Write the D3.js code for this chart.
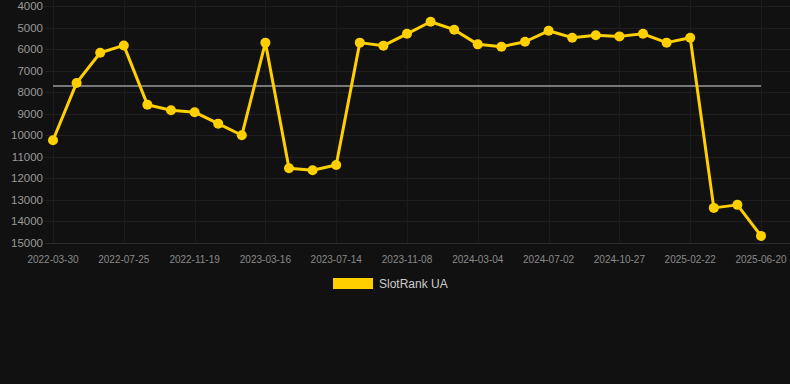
<!DOCTYPE html>
<html>
<head>
<meta charset="utf-8">
<script src="https://cdn.jsdelivr.net/npm/d3@7"></script>
<style>
  html, body { margin: 0; padding: 0; background: #111111; }
  svg { display: block; }
  text { font-family: "Liberation Sans", Arial, sans-serif; }
</style>
</head>
<body>
<svg id="chart" width="790" height="384"></svg>
<script>
// ---- data ----
const seriesName = "SlotRank UA";
const dates = [
  "2022-03-30","2022-05-08","2022-06-16","2022-07-25","2022-09-03","2022-10-12",
  "2022-11-19","2022-12-29","2023-02-06","2023-03-16","2023-04-26","2023-06-04",
  "2023-07-14","2023-08-22","2023-09-30","2023-11-08","2023-12-17","2024-01-25",
  "2024-03-04","2024-04-12","2024-05-22","2024-07-02","2024-08-10","2024-09-18",
  "2024-10-27","2024-12-05","2025-01-14","2025-02-22","2025-04-02","2025-05-11",
  "2025-06-20"
];
const ranks = [
  10230, 7570, 6170, 5830, 8580, 8840,
  8930, 9460, 10000, 5700, 11530, 11620,
  11380, 5700, 5840, 5290, 4730, 5100,
  5780, 5890, 5660, 5150, 5470, 5360,
  5410, 5290, 5700, 5470, 13370, 13230,
  14670
];
const averageRank = 7710;
const xTickLabels = [
  "2022-03-30","2022-07-25","2022-11-19","2023-03-16","2023-07-14","2023-11-08",
  "2024-03-04","2024-07-02","2024-10-27","2025-02-22","2025-06-20"
];
const yTicks = [4000,5000,6000,7000,8000,9000,10000,11000,12000,13000,14000,15000];

// ---- layout ----
const plotLeft = 53, plotRight = 761, plotTop = 6, plotBottom = 243;
const svg = d3.select("#chart");

const x = d3.scalePoint().domain(dates).range([plotLeft, plotRight]);
const y = d3.scaleLinear().domain([4000, 15000]).range([plotTop, plotBottom]);

// horizontal grid
svg.append("g").selectAll("line").data(yTicks).join("line")
  .attr("x1", 45).attr("x2", 790)
  .attr("y1", d => Math.round(y(d)) + 0.5).attr("y2", d => Math.round(y(d)) + 0.5)
  .attr("stroke", d => d === 15000 ? "#2c2c2c" : "#1f1f1f")
  .attr("stroke-width", 1);

// vertical grid
svg.append("g").selectAll("line").data(xTickLabels).join("line")
  .attr("x1", d => Math.round(x(d)) + 0.5)
  .attr("x2", d => Math.round(x(d)) + 0.5)
  .attr("y1", 0).attr("y2", plotBottom)
  .attr("stroke", "#1c1c1c").attr("stroke-width", 1);

// y labels
svg.append("g").selectAll("text").data(yTicks).join("text")
  .attr("x", 43).attr("y", d => y(d))
  .attr("text-anchor", "end").attr("dominant-baseline", "central")
  .attr("font-size", 11.5).attr("fill", "#9a9a9a")
  .text(d => d);

// x labels
svg.append("g").selectAll("text").data(xTickLabels).join("text")
  .attr("x", d => x(d)).attr("y", 259)
  .attr("text-anchor", "middle").attr("dominant-baseline", "central")
  .attr("font-size", 10).attr("fill", "#8a8a8a")
  .text(d => d);

// average line
svg.append("line")
  .attr("x1", plotLeft).attr("x2", plotRight)
  .attr("y1", y(averageRank)).attr("y2", y(averageRank))
  .attr("stroke", "#777777").attr("stroke-width", 2);

// series line
const pts = dates.map((d, i) => ({ date: d, v: ranks[i] }));
svg.append("path").datum(pts)
  .attr("fill", "none").attr("stroke", "#FFD000").attr("stroke-width", 3)
  .attr("stroke-linejoin", "round")
  .attr("d", d3.line().x(d => x(d.date)).y(d => y(d.v)));

svg.append("g").selectAll("circle").data(pts).join("circle")
  .attr("cx", d => x(d.date)).attr("cy", d => y(d.v)).attr("r", 5)
  .attr("fill", "#FFD000");

// legend
svg.append("rect").attr("x", 333).attr("y", 278).attr("width", 40).attr("height", 11)
  .attr("fill", "#FFD000");
svg.append("text").attr("x", 379).attr("y", 284)
  .attr("dominant-baseline", "central").attr("font-size", 12).attr("fill", "#cccccc")
  .text(seriesName);
</script>
</body>
</html>
